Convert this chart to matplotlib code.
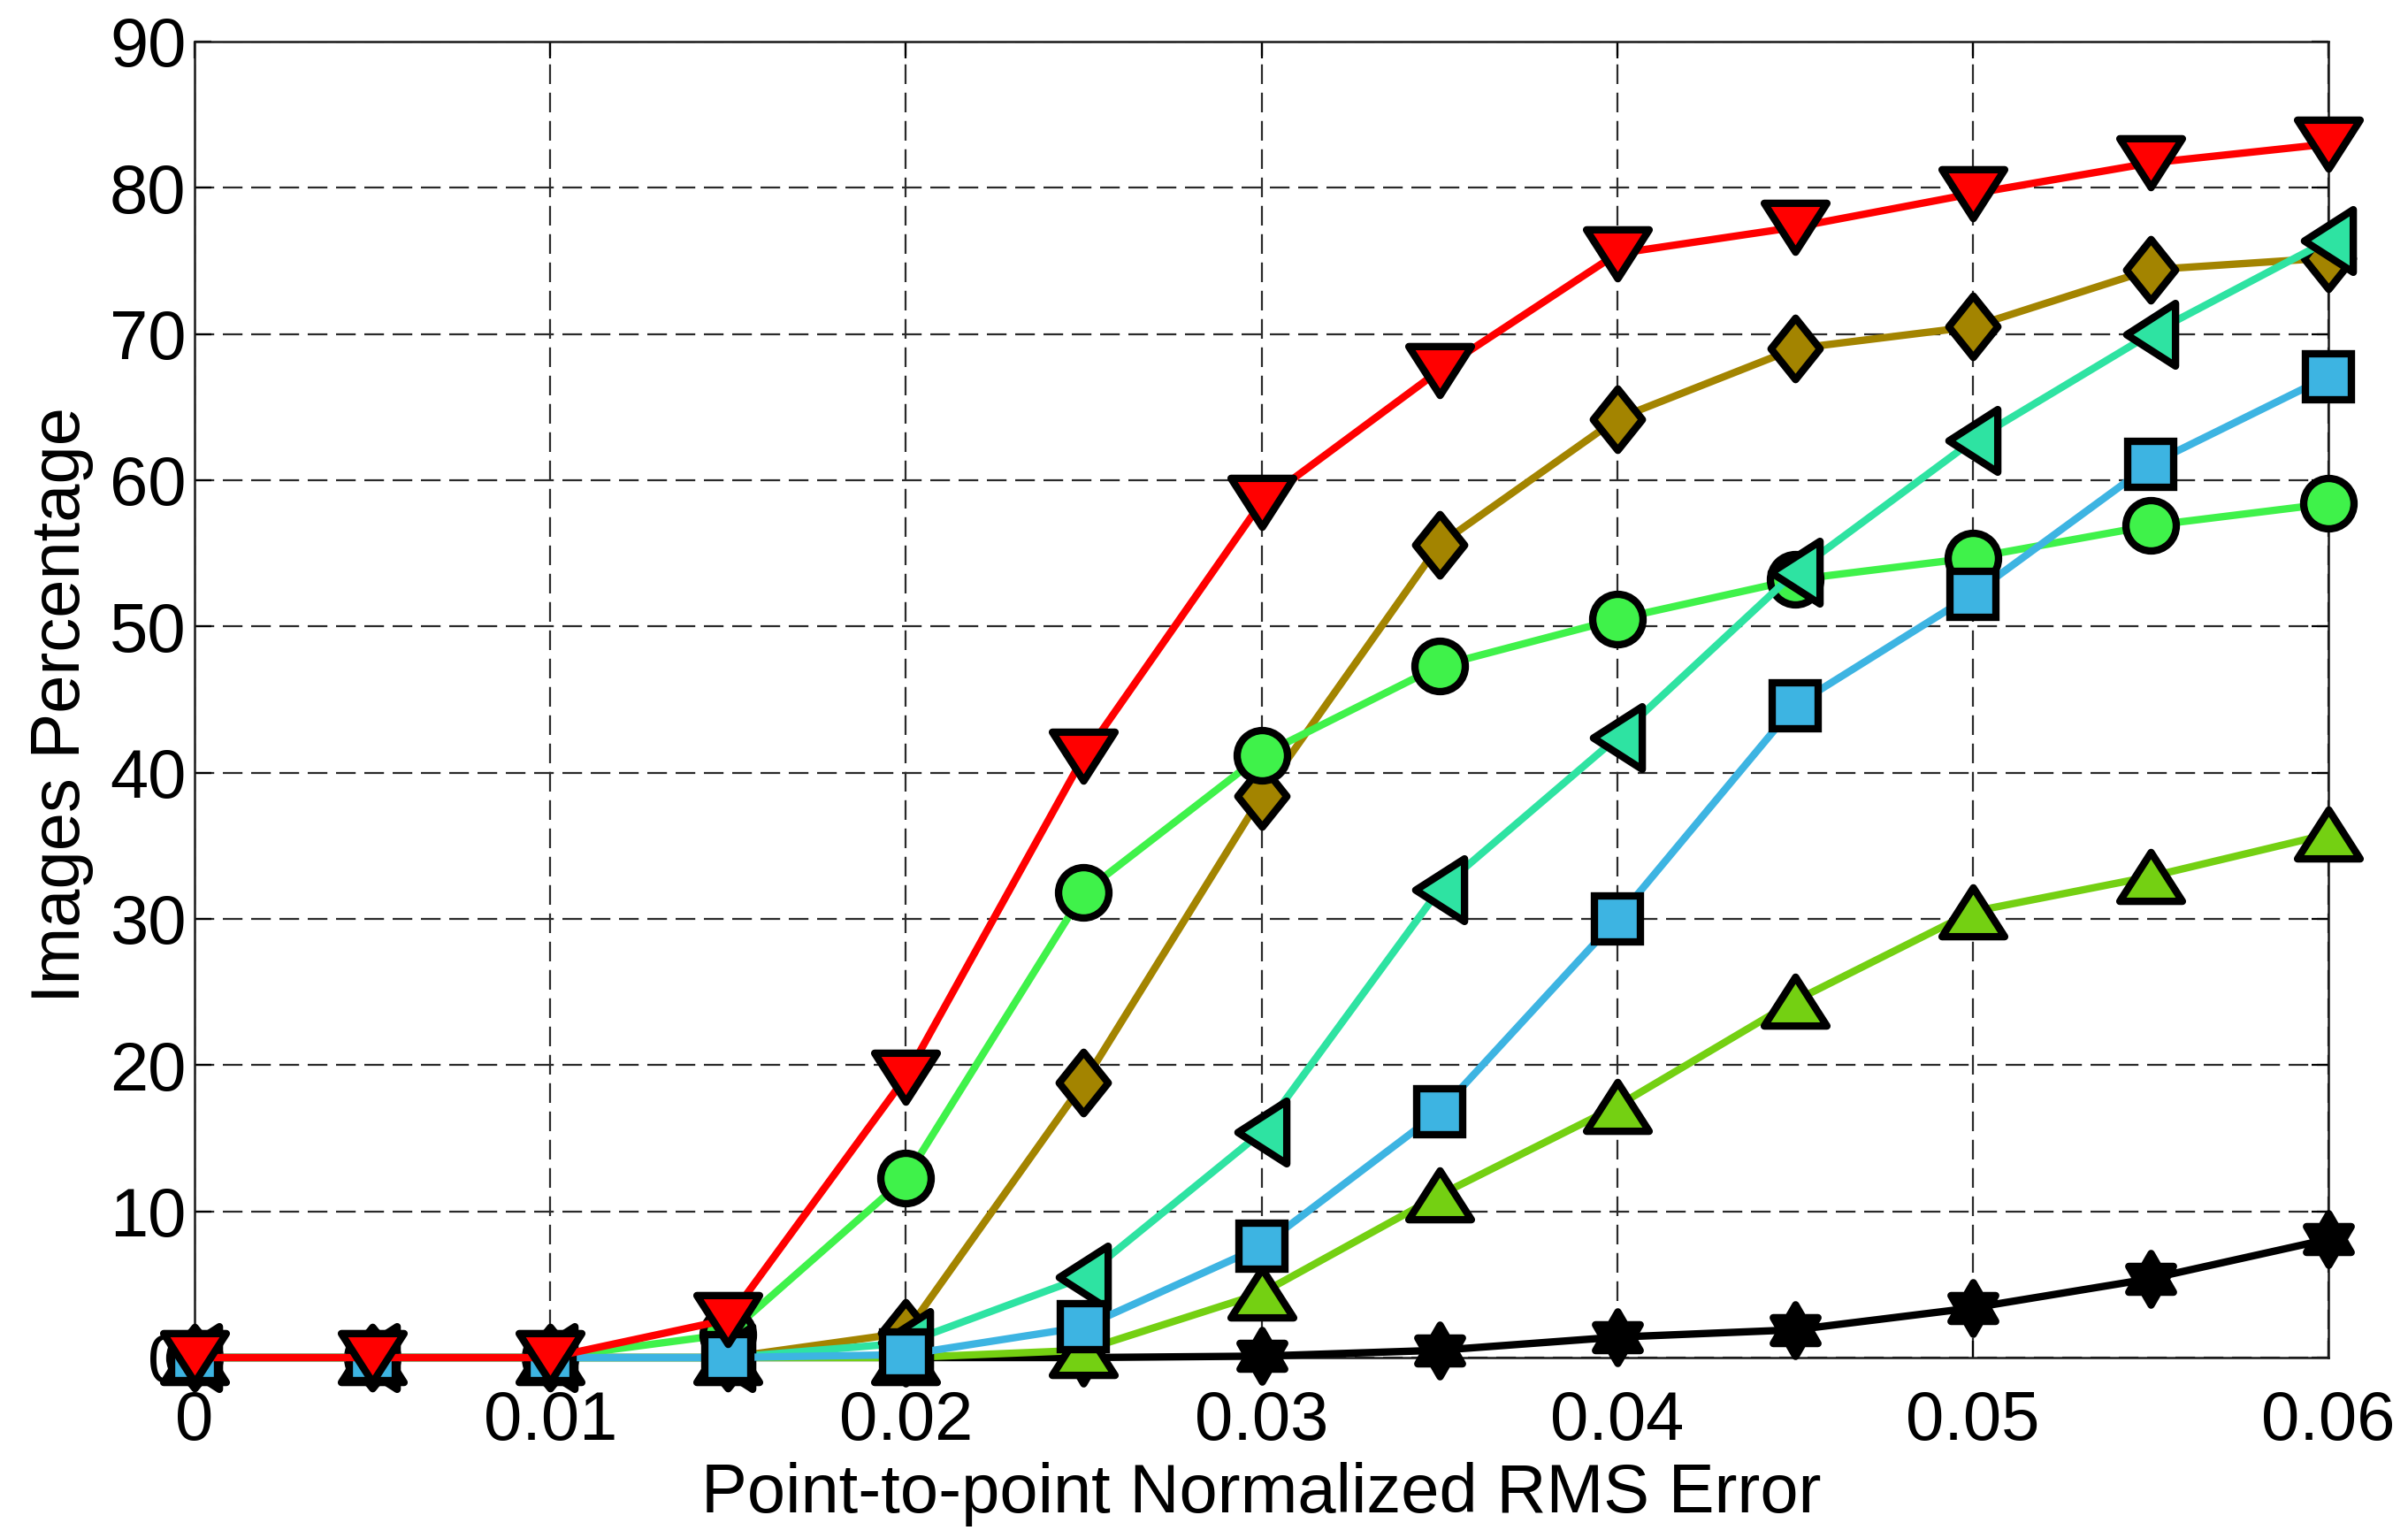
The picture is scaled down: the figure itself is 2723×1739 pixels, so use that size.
import numpy as np
import matplotlib
matplotlib.use("Agg")
import matplotlib.pyplot as plt
from matplotlib.path import Path
from matplotlib.markers import MarkerStyle

# ---------------- data ----------------
x_vals = [0.0, 0.005, 0.01, 0.015, 0.02, 0.025, 0.03, 0.035, 0.04, 0.045, 0.05, 0.055, 0.06]
black_vals = [0, 0, 0, 0, 0, 0, 0.1, 0.5, 1.4, 1.9, 3.4, 5.4, 8.1]
brown_vals = [0, 0, 0, 0, 1.7, 18.8, 38.4, 55.6, 64.2, 69.0, 70.5, 74.4, 75.2]
green_vals = [0, 0, 0, 1.6, 12.3, 31.8, 41.2, 47.3, 50.5, 53.2, 54.7, 56.9, 58.4]
ygreen_vals = [0, 0, 0, 0, 0, 0.5, 4.4, 11.1, 17.2, 24.4, 30.5, 32.9, 35.8]
teal_vals = [0, 0, 0, 0, 1.0, 5.5, 15.4, 32.0, 42.4, 53.7, 62.7, 70.0, 76.4]
blue_vals = [0, 0, 0, 0, 0.2, 2.1, 7.6, 16.8, 30.0, 44.6, 52.2, 61.1, 67.1]
red_vals = [0, 0, 0, 2.6, 19.2, 41.1, 58.5, 67.5, 75.5, 77.3, 79.6, 81.7, 83.0]

x_ticks = [0, 0.01, 0.02, 0.03, 0.04, 0.05, 0.06]
x_tick_labels = ["0", "0.01", "0.02", "0.03", "0.04", "0.05", "0.06"]
y_ticks = [0, 10, 20, 30, 40, 50, 60, 70, 80, 90]
y_tick_labels = ["0", "10", "20", "30", "40", "50", "60", "70", "80", "90"]

x_label = "Point-to-point Normalized RMS Error"
y_label = "Images Percentage"

# ---------------- markers ----------------
h = 0.78
tri_down = Path([(-1, h), (1, h), (0, -h), (-1, h)], closed=True)
tri_up = Path([(-1, -h), (1, -h), (0, h), (-1, -h)], closed=True)
tri_left = Path([(-h, 0), (h, 1), (h, -1), (-h, 0)], closed=True)
thin_diam = Path([(0, 1), (0.8, 0), (0, -1), (-0.8, 0), (0, 1)], closed=True)
hexagram = Path.unit_regular_star(6, 0.577)


def ms(p):
    return MarkerStyle(p, joinstyle="miter")


plt.rcParams["font.family"] = ["Liberation Sans", "DejaVu Sans"]

W, H = 2723, 1739
fig = plt.figure(figsize=(W / 100, H / 100), dpi=100)
left, right, top, bottom = 220, 2633, 47, 1535
ax = fig.add_axes([left / W, 1 - bottom / H, (right - left) / W, (bottom - top) / H])

lw = 6.0
mew = 6.0
series = [
    (black_vals, "#000000", ms(hexagram), 42),
    (brown_vals, "#a38400", ms(thin_diam), 50),
    (green_vals, "#3ff24a", "o", 41),
    (ygreen_vals, "#74d012", ms(tri_up), 51),
    (teal_vals, "#2ee3a2", ms(tri_left), 51),
    (blue_vals, "#3db4e2", "s", 37),
    (red_vals, "#ff0000", ms(tri_down), 51),
]
for i, (vals, col, mk, size) in enumerate(series):
    ax.plot(x_vals, vals, color=col, lw=lw, marker=mk, markersize=size,
            markerfacecolor=col, markeredgecolor="black", markeredgewidth=mew,
            clip_on=False, zorder=3 + i)

ax.set_xlim(0, 0.06)
ax.set_ylim(0, 90)
ax.set_xticks(x_ticks)
ax.set_xticklabels(x_tick_labels)
ax.set_yticks(y_ticks)
ax.set_yticklabels(y_tick_labels)

ax.grid(True, color="#2a2a2a", linewidth=1.6, linestyle=(0, (10, 4.4)))
ax.set_axisbelow(True)
for s in ax.spines.values():
    s.set_linewidth(1.8)
    s.set_color("#1a1a1a")
    s.set_zorder(2.5)

ax.tick_params(axis="both", direction="in", length=14, width=1.6,
               top=True, right=True, labelsize=56, colors="black")
ax.tick_params(axis="x", pad=26)
ax.tick_params(axis="y", pad=7)

fig.text(1426 / W, 1 - 1690 / H, x_label, ha="center", va="center", fontsize=56)
fig.text(70 / W, 1 - 797 / H, y_label, ha="center", va="center", rotation=90, fontsize=56)

fig.savefig("out.png", dpi=100, facecolor="white")
